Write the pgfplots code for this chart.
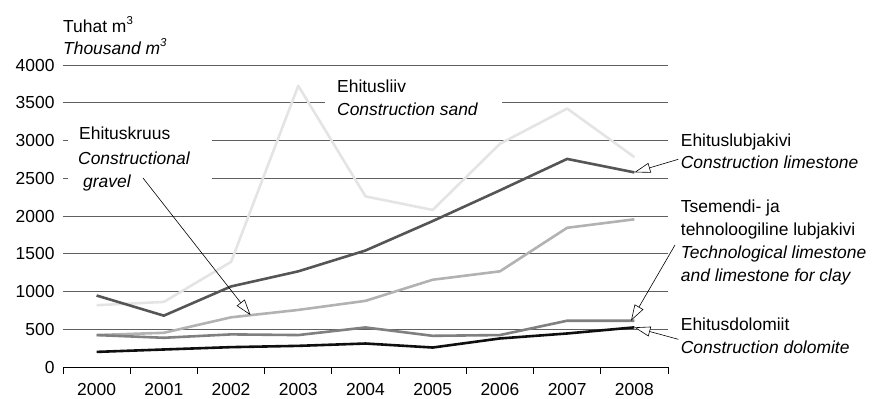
\documentclass[border=0pt]{standalone}
\usepackage{fontspec}
\setmainfont{Liberation Sans}
\usepackage{pgfplots}
\pgfplotsset{compat=1.18}
\usetikzlibrary{arrows.meta}

\definecolor{sandc}{RGB}{228,228,228}
\definecolor{limec}{RGB}{85,85,85}
\definecolor{techc}{RGB}{178,178,178}
\definecolor{gravc}{RGB}{128,128,128}
\definecolor{dolc}{RGB}{15,15,15}
\definecolor{gridc}{RGB}{95,95,95}

\newcommand{\fs}{\fontsize{17.5}{23}\selectfont}

\begin{document}
\begin{tikzpicture}
\useasboundingbox (-63bp,-32bp) rectangle (809bp,367bp);
\begin{axis}[
  at={(0,0)}, anchor=south west,
  scale only axis, width=605bp, height=302bp,
  xmin=-0.5, xmax=8.5, ymin=0, ymax=4000,
  xtick={0,...,8},
  xticklabels={2000,2001,2002,2003,2004,2005,2006,2007,2008},
  minor xtick={-0.5,0.5,...,8.5},
  ytick={0,500,...,4000},
  axis x line*=bottom, axis y line*=left,
  y axis line style={draw=none},
  x axis line style={black, line width=0.9bp},
  ytick style={draw=none},
  major tick length=0pt,
  minor x tick style={black, line width=0.9bp},
  tick align=outside, minor tick length=7bp,
  ymajorgrids, major grid style={gridc, line width=0.8bp},
  tick label style={font=\fs},
  /pgf/number format/assume math mode=true,
  /pgf/number format/1000 sep={},
  yticklabel style={anchor=east, xshift=-5bp},
  xticklabel style={anchor=base, inner sep=0pt, yshift=-28bp},
  clip=false,
  every axis plot/.append style={line width=2.6bp, line join=round},
]
% Ehitusliiv / Construction sand
\addplot[sandc] coordinates {(0,818) (1,862) (2,1392) (3,3725) (4,2260) (5,2080) (6,2956) (7,3423) (8,2780)};
% Ehituslubjakivi / Construction limestone
\addplot[limec] coordinates {(0,947) (1,680) (2,1067) (3,1267) (4,1543) (5,1933) (6,2340) (7,2756) (8,2578)};
% Tsemendi- ja tehnoloogiline lubjakivi
\addplot[techc] coordinates {(0,423) (1,453) (2,658) (3,756) (4,876) (5,1156) (6,1267) (7,1844) (8,1956)};
% Ehituskruus / Constructional gravel
\addplot[gravc] coordinates {(0,423) (1,387) (2,432) (3,423) (4,524) (5,413) (6,423) (7,613) (8,613)};
% Ehitusdolomiit / Construction dolomite
\addplot[dolc] coordinates {(0,200) (1,232) (2,263) (3,280) (4,311) (5,258) (6,378) (7,444) (8,525)};

\coordinate (tgrav) at (axis cs:2.29,686);
\coordinate (tlime) at (axis cs:8,2578);
\coordinate (ttech) at (axis cs:7.95,613);
\coordinate (tdol)  at (axis cs:8,525);
\end{axis}

% white patches behind labels
\fill[white] (262bp,250bp) rectangle (439bp,277bp);
\fill[white] (5bp,178bp) rectangle (149bp,236bp);

\begin{scope}[every node/.style={anchor=base west, inner sep=0pt, font=\fs}]
\node at (0bp,334bp) {Tuhat m\raisebox{8bp}{\fontsize{11.5}{12}\selectfont 3}};
\node at (0bp,312bp) {\itshape Thousand m\raisebox{8bp}{\fontsize{11.5}{12}\selectfont 3}};

\node at (274bp,274bp) {Ehitusliiv};
\node at (274bp,251bp) {\itshape Construction sand};

\node at (16bp,227bp) {Ehituskruus};
\node at (15bp,202bp) {\itshape Constructional};
\node at (20bp,179bp) {\itshape gravel};

\node at (617.7bp,220.5bp) {Ehituslubjakivi};
\node at (617.7bp,198.5bp) {\itshape Construction limestone};

\node at (617.7bp,154bp) {Tsemendi- ja};
\node at (617.7bp,131bp) {tehnoloogiline lubjakivi};
\node at (617.7bp,108bp) {\itshape Technological limestone};
\node at (617.7bp,85bp) {\itshape and limestone for clay};

\node at (617.7bp,37bp) {Ehitusdolomiit};
\node at (617.7bp,14bp) {\itshape Construction dolomite};
\end{scope}

\begin{scope}[line width=0.6bp, -{Triangle[fill=white, length=16bp, width=10bp, line width=0.6bp]}]
\draw (80bp,189bp) -- (tgrav);
\draw (615.3bp,207.7bp) -- (tlime);
\draw (612bp,122bp) -- (ttech);
\draw (615.3bp,27.7bp) -- (tdol);
\end{scope}
\end{tikzpicture}
\end{document}
